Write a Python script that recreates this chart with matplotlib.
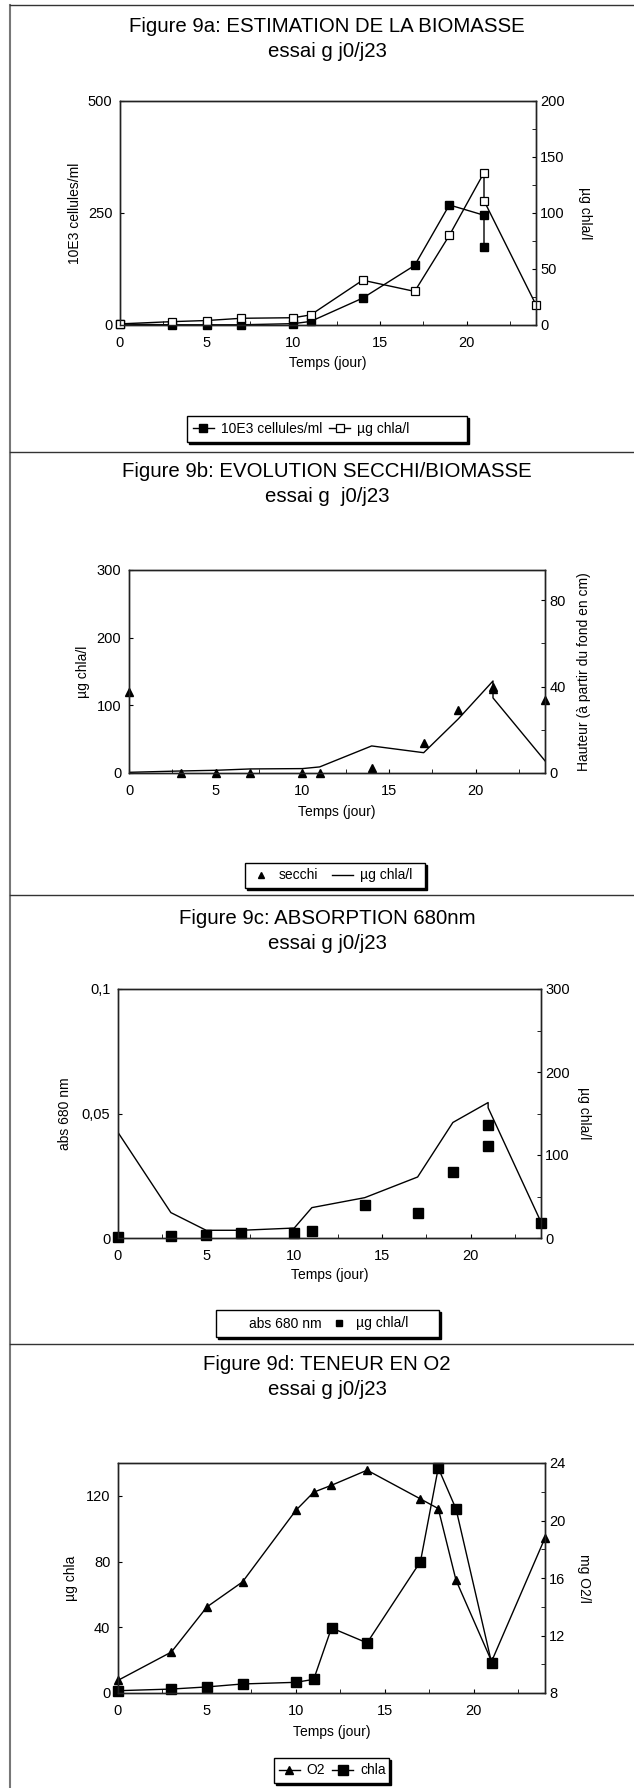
import matplotlib
matplotlib.use("Agg")
import matplotlib.pyplot as plt
from matplotlib.lines import Line2D
from matplotlib.patches import Rectangle
from matplotlib.ticker import MultipleLocator

plt.rcParams["font.family"] = ["Liberation Sans", "DejaVu Sans"]

# ---- données (essai g, j0/j23) ----
jours = [0, 3, 5, 7, 10, 11, 14, 17, 19, 21, 21, 24]
chla = [1, 3, 4, 6, 6.5, 9, 40, 30, 80, 136, 111, 18]

jours_cell = [0, 3, 5, 7, 10, 11, 14, 17, 19, 21, 21]
cellules = [2, 0.5, 0.5, 0.5, 3, 8, 60, 133, 268, 245, 175]

secchi = [37.7, 0, 0, 0, 0, 0, 2.3, 13.8, 29, 40, 38.8, 33.8]

abs680 = [0.0424, 0.0102, 0.0031, 0.0031, 0.0040, 0.0122, 0.0162, 0.0245, 0.0464, 0.0544, 0.0523, 0.0064]
abs_ticks = [0, 0.05, 0.1]
abs_labels = ["0", "0,05", "0,1"]

jours_o2 = [0, 3, 5, 7, 10, 11, 12, 14, 17, 18, 19, 21, 24]
o2 = [8.88, 10.85, 13.99, 15.73, 20.71, 21.97, 22.45, 23.5, 21.5, 20.83, 15.84, 10.2, 18.79]
jours_chla_d = [0, 3, 5, 7, 10, 11, 12, 14, 17, 18, 19, 21]
chla_d = [1.4, 2.4, 3.7, 5.5, 6.5, 8.3, 39.6, 30.5, 80, 137, 112, 18.3]

x_ticks = [0, 5, 10, 15, 20]

W, H = 634, 1788
fig = plt.figure(figsize=(W / 100, H / 100), dpi=100)


def fy(y):
    return 1 - y / H


def axes_px(l, t, r, b):
    ax = fig.add_axes([l / W, fy(b), (r - l) / W, (b - t) / H])
    ax2 = ax.twinx()
    ax.set_xlim(0, 24)
    ax.set_xticks(x_ticks)
    ax.xaxis.set_minor_locator(MultipleLocator(2.5))
    ax.tick_params(axis="x", which="both", direction="in", length=3, pad=8, labelsize=10.5)
    ax.tick_params(axis="y", which="both", direction="in", length=3, pad=5.5, labelsize=10.5)
    ax2.tick_params(axis="y", which="both", direction="in", length=3, pad=3, labelsize=10.5)
    for a in (ax, ax2):
        for s in a.spines.values():
            s.set_linewidth(1)
            s.set_color("#222222")
    return ax, ax2


def textes(titre, sous_titre, y_titre, rect, xlab_y, ylab_g, xg, ylab_d, xd, rot_d=270):
    l, t, r, b = rect
    fig.text(327 / W, fy(y_titre), titre, ha="center", va="baseline", fontsize=14.7)
    fig.text(327 / W, fy(y_titre + 25), sous_titre, ha="center", va="baseline", fontsize=14.7)
    fig.text((l + r) / 2 / W, fy(xlab_y), "Temps (jour)", ha="center", va="center", fontsize=10)
    fig.text(xg / W, fy((t + b) / 2), ylab_g, rotation=90, ha="center", va="center", fontsize=10)
    fig.text(xd / W, fy((t + b) / 2), ylab_d, rotation=rot_d, ha="center", va="center", fontsize=10)


def boite(l, t, r, b):
    fig.add_artist(Rectangle((l / W + 2 / W, fy(b) - 2 / H), (r - l) / W, (b - t) / H,
                             transform=fig.transFigure, facecolor="black", edgecolor="black"))
    fig.add_artist(Rectangle((l / W, fy(b)), (r - l) / W, (b - t) / H,
                             transform=fig.transFigure, facecolor="white", edgecolor="black", lw=1))


def legende(handles, labels, x, yc, colsp=0.5):
    fig.legend(handles, labels, loc="center left", bbox_to_anchor=(x / W, fy(yc)), ncol=2,
               frameon=False, fontsize=10, handlelength=1.5, handletextpad=0.5,
               columnspacing=colsp, borderpad=0, borderaxespad=0, numpoints=1)


# cadres
fig.add_artist(Line2D([10 / W, 10 / W], [fy(5), 0], transform=fig.transFigure, color="#777777", lw=1.5))
for ysep in [5, 452, 895, 1344]:
    fig.add_artist(Line2D([10 / W, 1], [fy(ysep), fy(ysep)], transform=fig.transFigure, color="#333333", lw=1))

# ---- Figure 9a ----
rect_a = (120, 101, 536, 325)
ax, ax2 = axes_px(*rect_a)
l1, = ax.plot(jours_cell, cellules, color="k", lw=1, marker="s", ms=6, clip_on=False)
l2, = ax2.plot(jours, chla, color="k", lw=1, marker="s", ms=6, mfc="white", mew=0.9, clip_on=False)
ax.set_ylim(0, 500)
ax.set_yticks([0, 250, 500])
ax2.set_ylim(0, 200)
ax2.set_yticks([0, 50, 100, 150, 200])
ax2.yaxis.set_minor_locator(MultipleLocator(25))
textes("Figure 9a: ESTIMATION DE LA BIOMASSE", "essai g j0/j23", 32, rect_a, 363,
       "10E3 cellules/ml", 75, "µg chla/l", 585)
boite(187, 416, 467, 442)
legende([l1, l2], ["10E3 cellules/ml", "µg chla/l"], 193, 429)

# ---- Figure 9b ----
rect_b = (129, 570, 545, 773)
ax, ax2 = axes_px(*rect_b)
ax.plot(jours, chla, color="k", lw=1)
ax2.plot(jours, secchi, ls="none", color="k", marker="^", ms=6, clip_on=False)
ax.set_ylim(0, 300)
ax.set_yticks([0, 100, 200, 300])
ax2.set_ylim(0, 94)
ax2.set_yticks([0, 40, 80])
ax2.yaxis.set_minor_locator(MultipleLocator(20))
textes("Figure 9b: EVOLUTION SECCHI/BIOMASSE", "essai g  j0/j23", 477, rect_b, 812,
       "µg chla/l", 83, "Hauteur (à partir du fond en cm)", 584, rot_d=90)
boite(245, 863, 425, 888)
legende([Line2D([], [], ls="none", color="k", marker="^", ms=5),
         Line2D([], [], color="k", lw=1)], ["secchi", "µg chla/l"], 251, 875.5, colsp=1.0)

# ---- Figure 9c ----
rect_c = (118, 989, 541, 1238)
ax, ax2 = axes_px(*rect_c)
ax.plot(jours, abs680, color="k", lw=1)
ax2.plot(jours, chla, ls="none", color="k", marker="s", ms=6.5, clip_on=False)
ax.set_ylim(0, 0.1)
ax.set_yticks(abs_ticks)
ax.set_yticklabels(abs_labels)
ax2.set_ylim(0, 300)
ax2.set_yticks([0, 100, 200, 300])
ax2.yaxis.set_minor_locator(MultipleLocator(50))
textes("Figure 9c: ABSORPTION 680nm", "essai g j0/j23", 924, rect_c, 1275,
       "abs 680 nm", 65, "µg chla/l", 584)
boite(216, 1310, 439, 1337)
legende([Line2D([], [], color="none"),
         Line2D([], [], ls="none", color="k", marker="s", ms=5)], ["abs 680 nm", "µg chla/l"], 221, 1323.5)

# ---- Figure 9d ----
rect_d = (118, 1463, 545, 1693)
ax, ax2 = axes_px(*rect_d)
c1, = ax.plot(jours_chla_d, chla_d, color="k", lw=1, marker="s", ms=6.5, clip_on=False)
c2, = ax2.plot(jours_o2, o2, color="k", lw=1, marker="^", ms=5.5, clip_on=False)
ax.set_ylim(0, 140)
ax.set_yticks([0, 40, 80, 120])
ax2.set_ylim(8, 24)
ax2.set_yticks([8, 12, 16, 20, 24])
ax2.yaxis.set_minor_locator(MultipleLocator(2))
textes("Figure 9d: TENEUR EN O2", "essai g j0/j23", 1370, rect_d, 1732,
       "µg chla", 71, "mg O2/l", 584)
boite(274, 1758, 389, 1783)
legende([c2, c1], ["O2", "chla"], 279, 1770.5)

fig.savefig("out.png", dpi=100)
